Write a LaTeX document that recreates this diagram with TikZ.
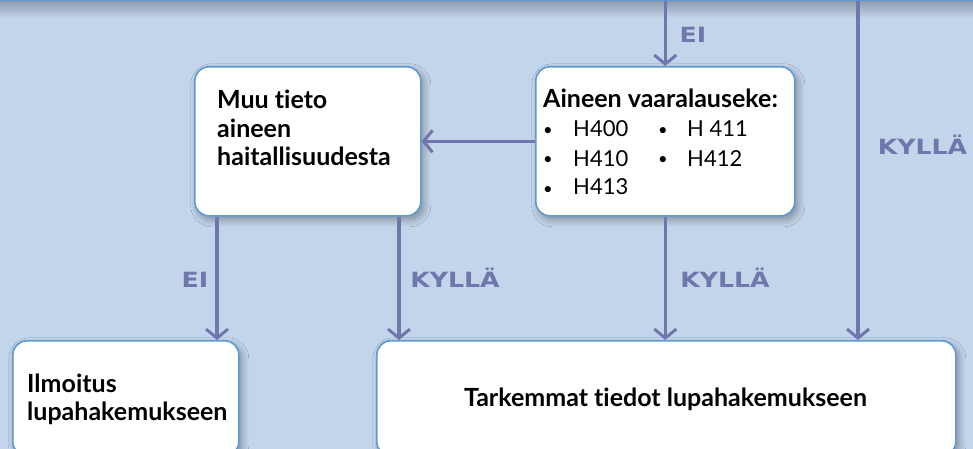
\documentclass[tikz,border=0pt]{standalone}
\usepackage{fontspec}
\setmainfont{Lato}[Ligatures=NoCommon]
\newfontfamily\tagfont{DejaVu Sans}
\usetikzlibrary{arrows.meta,shadows.blur}

\definecolor{bgblue}{HTML}{C3D5EA}
\definecolor{edgeblue}{HTML}{5E9AD2}
\definecolor{flow}{HTML}{6F77AD}
\definecolor{shadegray}{HTML}{8E9CAE}

\newcommand{\flowtxt}[1]{\scalebox{1.2}[1]{#1}}
\newcommand{\smallbullet}{\raisebox{1pt}{\scalebox{0.75}{\textbullet}}}

\tikzset{
  box/.style={draw=edgeblue, line width=1.6pt, fill=white, rounded corners=14pt,
    inner sep=0pt, anchor=north west,
    blur shadow={shadow xshift=3pt, shadow yshift=-4pt,
      shadow blur radius=7pt, shadow blur steps=10, shadow opacity=35}},
  boxtext/.style={inner sep=0pt, align=left, font=\fontsize{25}{28}\selectfont\bfseries},
  flowline/.style={draw=flow, line width=3.2pt,
    -{Straight Barb[length=9pt, width=22pt, line width=3pt]}},
  flowlabel/.style={text=flow, inner sep=0pt, anchor=base,
    font=\tagfont\bfseries\fontsize{21}{21}\selectfont},
}

\begin{document}
\begin{tikzpicture}[x=1pt, y=-1pt]
  \useasboundingbox (0,0) rectangle (973,449);
  \fill[bgblue] (0,0) rectangle (973,449);

  % shadow under the upper box
  \shade[top color=shadegray, bottom color=bgblue] (0,1) rectangle (973,18);
  \node[draw=edgeblue, line width=1.6pt, fill=white, inner sep=0pt,
        minimum width=1013pt, minimum height=60pt, anchor=south west] (prev) at (-20,1) {};

  % boxes
  \node[box, minimum width=226pt, minimum height=149pt] (muu)  at (194,66)  {};
  \node[box, minimum width=259pt, minimum height=149pt] (aine) at (535,66)  {};
  \node[box, minimum width=226pt, minimum height=115pt] (ilm)  at (12,340)  {};
  \node[box, minimum width=579pt, minimum height=115pt] (tark) at (376,340) {};

  % box texts (multi-line nodes sit on the baseline of their last line)
  \node[boxtext, anchor=base west] (muutxt) at (217,165)
    {Muu tieto\\aineen\\haitallisuudesta};
  \node[inner sep=0pt, anchor=base west] (ainehead) at (543,108)
    {\fontsize{25}{29}\selectfont\bfseries Aineen vaaralauseke:};
  \node[inner sep=0pt, anchor=base west, font=\fontsize{22}{29}\selectfont] (ainetxt) at (543,137)
    {\begin{tabular}[t]{@{}p{30pt}@{}p{85pt}@{}p{29pt}@{}l@{}}
      \smallbullet & H400 & \smallbullet & H 411\\
      \smallbullet & H410 & \smallbullet & H412\\
      \smallbullet & H413 & & \\
    \end{tabular}};
  \node[boxtext, anchor=base west] (ilmtxt) at (27,420)
    {Ilmoitus\\lupahakemukseen};
  \node[boxtext, anchor=base] (tarktxt) at (665.5,406)
    {Tarkemmat tiedot lupahakemukseen};

  % connector columns
  \coordinate (cx1) at (217,0);
  \coordinate (cx2) at (399,0);
  \coordinate (cx3) at (858,0);

  \draw[flowline] (prev.south -| aine.north) -- (aine.north);
  \draw[flowline] (prev.south -| cx3) -- (tark.north -| cx3);
  \draw[flowline] (aine.west) -- (muu.east);
  \draw[flowline] (muu.south -| cx1) -- (ilm.north -| cx1);
  \draw[flowline] (muu.south -| cx2) -- (tark.north -| cx2);
  \draw[flowline] (aine.south) -- (tark.north -| aine.south);

  % connector labels
  \node[flowlabel] (lei1)  at (693,43)    {\flowtxt{EI}};
  \node[flowlabel] (lky1)  at (922.5,155) {\flowtxt{KYLLÄ}};
  \node[flowlabel] (lei2)  at (195,287)   {\flowtxt{EI}};
  \node[flowlabel] (lky2)  at (455,287)   {\flowtxt{KYLLÄ}};
  \node[flowlabel] (lky3)  at (725,287)   {\flowtxt{KYLLÄ}};
\end{tikzpicture}
\end{document}
